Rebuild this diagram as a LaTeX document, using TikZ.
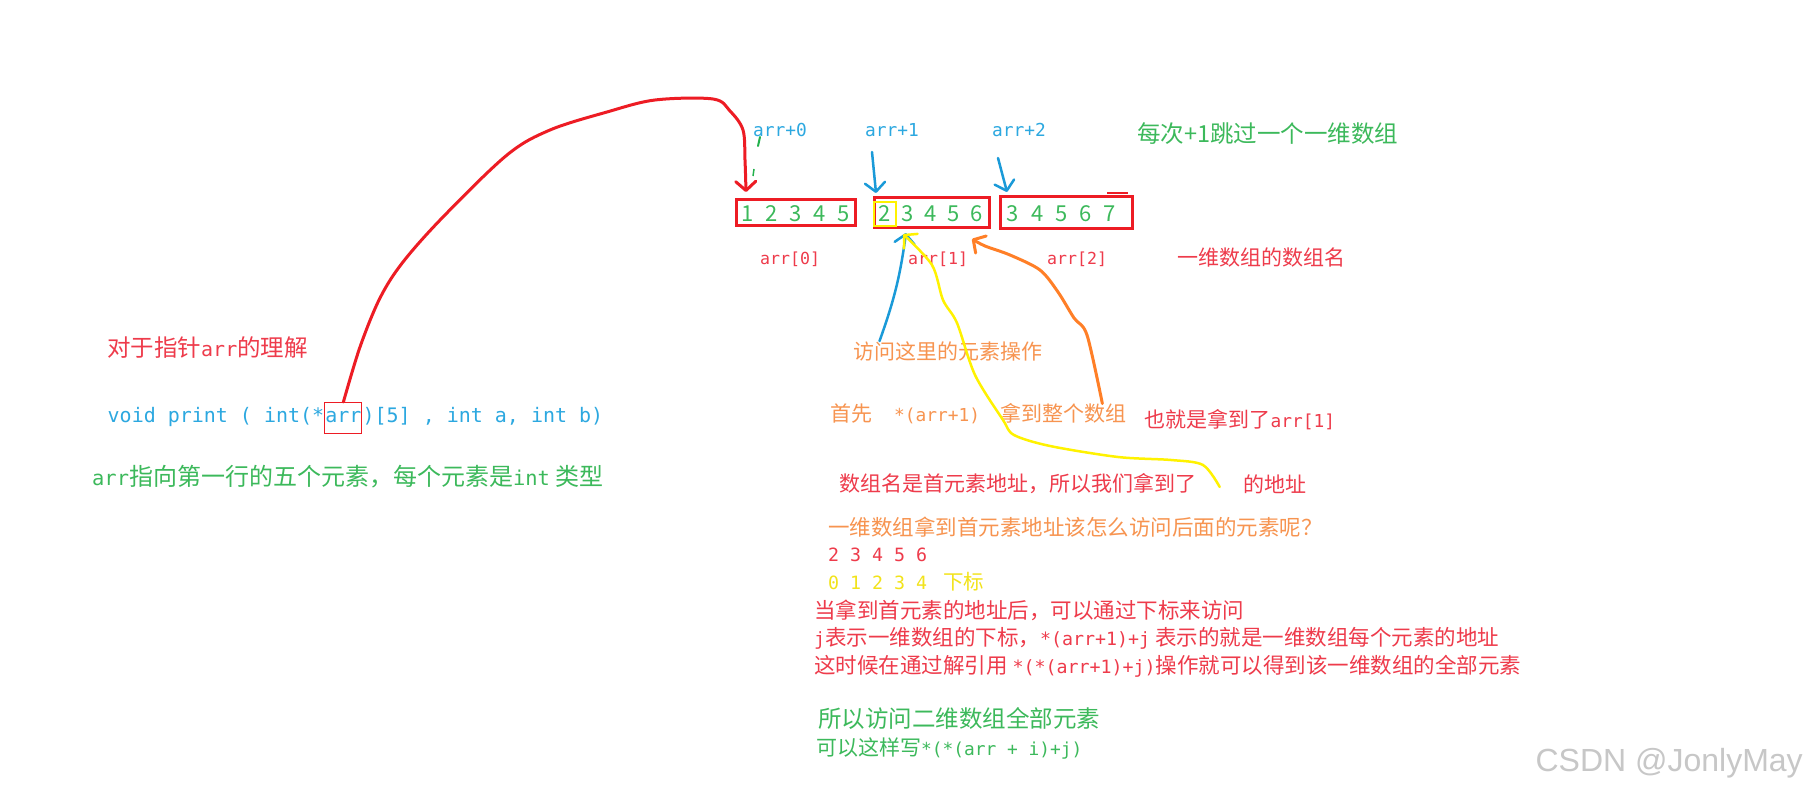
\documentclass[tikz,border=0pt]{standalone}
\usepackage{fontspec}
\setmainfont{Noto Sans CJK SC}
\newfontfamily\codefont{DejaVu Sans Mono}[Scale=0.85]
\newfontfamily\markfont{Liberation Sans}
\usetikzlibrary{positioning,calc,arrows.meta}

\definecolor{penred}{HTML}{ED1C24}
\definecolor{txtred}{HTML}{EE3B4B}
\definecolor{txtblue}{HTML}{2CA8E0}
\definecolor{penblue}{HTML}{1A9AD8}
\definecolor{txtgreen}{HTML}{3CB95B}
\definecolor{pengreen}{HTML}{22B14C}
\definecolor{txtorange}{HTML}{F79450}
\definecolor{penorange}{HTML}{FF7F27}
\definecolor{penyellow}{HTML}{FFF200}
\definecolor{txtyellow}{HTML}{F2E31A}

\newcommand{\arrtt}[1]{{\codefont #1}}
\newcommand{\fs}[1]{\fontsize{#1}{#1}\selectfont}

\tikzset{
  txt/.style={inner sep=0pt, anchor=west},
  cnbig/.style={txt, font=\fs{23.5}},
  cnmid/.style={txt, font=\fs{21}},
  cnlow/.style={txt, font=\fs{21.5}},
  tagtxt/.style={txt, text=txtblue, font=\codefont\fs{21}},
  nametxt/.style={txt, text=txtred, font=\codefont\fs{19.5}},
  sigtxt/.style={inner sep=0pt, text=txtblue, font=\codefont\fs{23.5},
    text height=13pt, text depth=4pt},
  rowbox/.style={draw=penred, line width=3pt},
  digit/.style={inner sep=0pt, text=txtgreen, font=\fs{22}},
  pen/.style={->, line width=2.5pt, line cap=round, line join=round},
}

\begin{document}
\begin{tikzpicture}[x=1pt, y=-1pt, >={Straight Barb[length=9pt,width=20pt,round]}]

\fill[white, use as bounding box] (0,0) rectangle (1808,797);

% --- the three rows of the 2D array ---
\node[rowbox, minimum width=119pt, minimum height=26pt] (row0) at (796,212.5) {};
\node[rowbox, minimum width=115pt, minimum height=30pt] (row1) at (932,212.5) {};
\node[rowbox, minimum width=132pt, minimum height=32pt] (row2) at (1066.5,212.5) {};

\foreach \v [count=\k from 0] in {1,...,5}
  \node[digit] (c0-\k) at ({748+24*\k},214) {\v};
\foreach \v [count=\k from 0] in {2,...,6}
  \node[digit] (c1-\k) at ({885+23*\k},214) {\v};
\foreach \v [count=\k from 0] in {3,...,7}
  \node[digit] (c2-\k) at ({1013+24.25*\k},214) {\v};

% first element of arr[1]
\node[draw=penyellow, line width=2.5pt, minimum width=22pt, minimum height=24pt] (elem) at (885,214) {};

% small marks
\draw[penred, line width=1.5pt] (1107,193) -- (1128,193);
\draw[pengreen, line width=2pt, line cap=round] (760,137) -- (758,146);
\draw[pengreen, line width=1.5pt] (754,169) -- (753,176);

% row pointers and row names
\node[tagtxt] (tag0) at (753,130) {arr+0};
\node[tagtxt] (tag1) at (865,130) {arr+1};
\node[tagtxt] (tag2) at (992,130) {arr+2};
\node[nametxt] (name0) at (760,259) {arr[0]};
\node[nametxt] (name1) at (908,259) {arr[1]};
\node[nametxt] (name2) at (1047,259) {arr[2]};

\node[cnbig, text=txtgreen] (hop) at (1137,134) {每次+1跳过一个一维数组};
\node[cnmid, text=txtred] (rowname) at (1177,258) {一维数组的数组名};

% --- left: the parameter ---
\node[cnbig, text=txtred] (title) at (107,348) {对于指针\arrtt{arr}的理解};
\node[sigtxt, anchor=west] (sig1) at (107.5,418) {void print ( int(*};
\node[sigtxt, draw=penred, line width=1pt, inner xsep=0.5pt, minimum height=31pt,
  right=0pt of sig1] (ptr) {arr};
\node[sigtxt, right=0pt of ptr] (sig2) {)[5] , int a, int b)};
\node[cnbig, font=\fs{24}, text=txtgreen] (meaning) at (92,477) {\arrtt{arr}指向第一行的五个元素，每个元素是\arrtt{int} 类型};

% --- middle: explanation ---
\node[cnmid, text=txtorange] (visit) at (853.5,351) {访问这里的元素操作};
\node[cnmid, text=txtorange] (firstly) at (830,414) {首先\hspace{22pt}\arrtt{*(arr+1)}\hspace{20pt}拿到整个数组};
\node[cnmid, text=txtred] (same) at (1144.5,420) {也就是拿到了\arrtt{arr[1]}};
\node[cnmid, text=txtred] (gotaddr) at (839,484) {数组名是首元素地址，所以我们拿到了};
\node[cnmid, text=txtred] (addr) at (1243,484) {的地址};

% --- lower block ---
\node[cnlow, text=txtorange] (how) at (828,527) {一维数组拿到首元素地址该怎么访问后面的元素呢？};
\node[cnlow, text=txtred] (vals) at (828,555) {\arrtt{2 3 4 5 6}};
\node[cnlow, text=txtyellow] (idx) at (828,582) {\arrtt{0 1 2 3 4}\hspace{16pt}{\fs{20.5}下标}};
\node[cnlow, text=txtred] (sub1) at (814,610) {当拿到首元素的地址后，可以通过下标来访问};
\node[cnlow, text=txtred] (sub2) at (814,638) {\arrtt{j}表示一维数组的下标，\arrtt{*(arr+1)+j} 表示的就是一维数组每个元素的地址};
\node[cnlow, text=txtred] (sub3) at (814,666) {这时候在通过解引用 \arrtt{*(*(arr+1)+j)}操作就可以得到该一维数组的全部元素};
\node[cnbig, text=txtgreen] (all1) at (818,719) {所以访问二维数组全部元素};
\node[cnmid, text=txtgreen] (all2) at (816,748) {可以这样写\arrtt{*(*(arr + i)+j)}};

\node[txt, anchor=east, text=black!22, font=\markfont\fs{32}] (mark) at (1803,763) {CSDN @JonlyMay};

% --- hand drawn connectors ---
\coordinate (hit0) at ($(row0.north west)+(11,-6)$);
\draw[pen, penred, line width=3pt] plot[smooth, tension=0.55] coordinates {(ptr.north) (360,347) (380,298) (403,262) (443,217) (507,155) (550,130) (607,112) (655,100) (713,99) (730,111) (743,130) (745,160) (hit0)};

\draw[pen, penblue] ($(tag1.west)+(7,22)$) -- ($(row1.north west)+(3,-3)$);
\draw[pen, penblue] ($(tag2.west)+(6,28)$) -- ($(row2.north west)+(8,-3)$);
\draw[pen, penblue] ($(visit.north west)+(26,0)$) to[bend right=6] ($(row1.south west)+(33,4)$);

\coordinate (gap) at ($(gotaddr.east)!0.5!(addr.west)+(0,3)$);
\coordinate (elemhit) at ($(elem.south east)+(6,7)$);
\draw[pen, penyellow] plot[smooth, tension=0.5] coordinates {(gap) (1203,465) (1171,460) (1118,457) (1050,446) (1014,435) (1003,420) (975,375) (957,323) (943,300) (932,265) (elemhit)};

\coordinate (ostart) at ($(firstly.north east)+(-24,0)$);
\coordinate (orhit) at ($(row1.south east)+(-19,10)$);
\draw[pen, penorange, line width=3pt] plot[smooth, tension=0.5] coordinates {(ostart) (1087,335) (1074,318) (1058,292) (1040,270) (1010,255) (985,246) (orhit)};

\end{tikzpicture}
\end{document}
